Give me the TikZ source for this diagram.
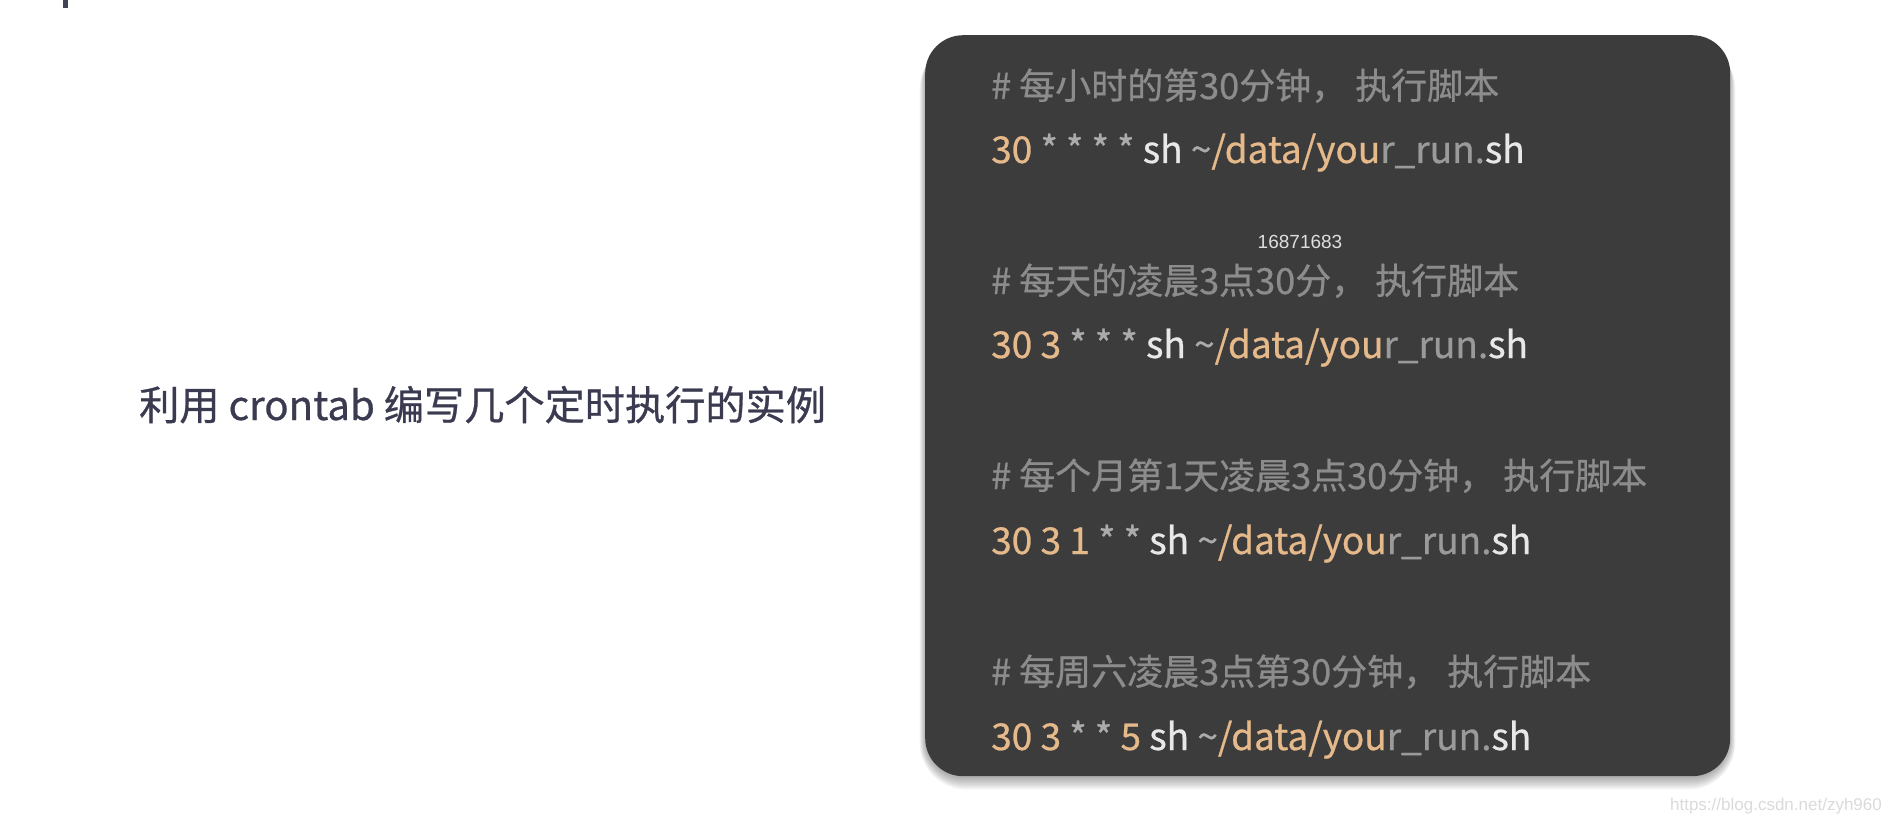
\documentclass[tikz,border=0pt]{standalone}
\usepackage{fontspec}
\newfontfamily\cjkfont[FakeBold=0.7]{Noto Sans CJK SC}
\newfontfamily\wmfont{Liberation Sans}
\definecolor{boxbg}{HTML}{3C3C3C}
\definecolor{cmtgray}{HTML}{8C8C8C}
\definecolor{tancol}{HTML}{E6B98B}
\definecolor{astgray}{HTML}{ABABAB}
\definecolor{whitecol}{HTML}{E8E8E8}
\definecolor{restgray}{HTML}{9A9A9A}
\definecolor{titlecol}{HTML}{3A3A50}
\definecolor{wmgray}{HTML}{DADADA}
\newcommand\ctan[1]{\textcolor{tancol}{#1}}
\newcommand\cwht[1]{\textcolor{whitecol}{#1}}
\newcommand\cgry[1]{\textcolor{restgray}{#1}}
\newcommand\codepath{\textasciitilde\ctan{/data/you}\cgry{r\_run.}\cwht{sh}}
\begin{document}
\begin{tikzpicture}[x=1pt,y=-1pt,
  cmt/.style={anchor=base west, inner sep=0pt, font=\cjkfont\fontsize{36}{40}\selectfont, text=cmtgray},
  codeline/.style={anchor=base west, inner sep=0pt, font=\cjkfont\fontsize{37}{40}\selectfont, text=astgray}]
\useasboundingbox (0,0) rectangle (1892,821);
% top-left remnant
\fill[fill=titlecol!85!gray] (63,0) rectangle (68,8);
% shadow
\foreach \i in {0,...,9} {
  \fill[black, opacity=0.035, rounded corners=38pt+\i pt] (925-\i*0.6,40+\i*0.3) rectangle (1730+\i*0.6,778+\i*1.3);
}
\node (panel) [fill=boxbg, rounded corners=38pt, minimum width=805pt, minimum height=741pt, inner sep=0pt, anchor=north west] at (925,35) {};
% title
\node (title) [anchor=base west, inner sep=0pt, font=\cjkfont\fontsize{40.2}{44}\selectfont, text=titlecol] at (139,420) {利用 crontab 编写几个定时执行的实例};
% lines
\node (c1) [cmt] at (991,99) {\# 每小时的第30分钟， 执行脚本};
\node (l1) [codeline] at (991,163) {\ctan{30} * * * * \cwht{sh} \codepath};
\node (num) [anchor=base, inner sep=0pt, font=\wmfont\fontsize{19}{22}\selectfont, text=whitecol!90!gray] at (1300,248) {16871683};
\node (c2) [cmt] at (991,294) {\# 每天的凌晨3点30分， 执行脚本};
\node (l2) [codeline] at (991,358) {\ctan{30 3} * * * \cwht{sh} \codepath};
\node (c3) [cmt] at (991,489) {\# 每个月第1天凌晨3点30分钟， 执行脚本};
\node (l3) [codeline] at (991,554) {\ctan{30 3 1} * * \cwht{sh} \codepath};
\node (c4) [cmt] at (991,685) {\# 每周六凌晨3点第30分钟， 执行脚本};
\node (l4) [codeline] at (991,750) {\ctan{30 3} * * \ctan{5} \cwht{sh} \codepath};
% watermark
\node (wm) [anchor=base east, inner sep=0pt, font=\wmfont\fontsize{17}{20}\selectfont, text=wmgray] at (1882,810) {https://blog.csdn.net/zyh960};
\end{tikzpicture}
\end{document}
